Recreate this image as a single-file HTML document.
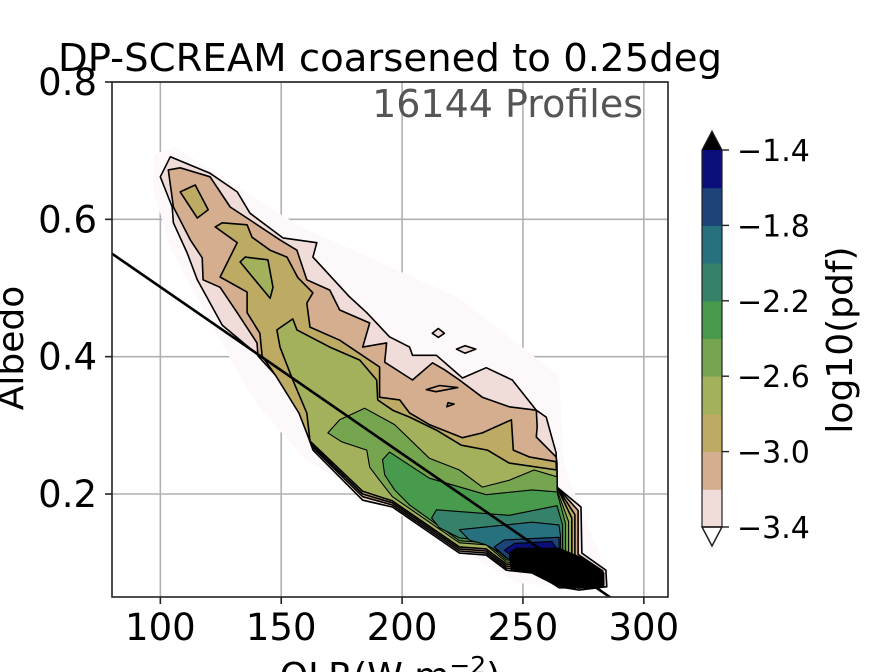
<!DOCTYPE html>
<html><head><meta charset="utf-8"><style>
html,body{margin:0;padding:0;background:#fff;}
svg{display:block;font-family:"DejaVu Sans","Liberation Sans",sans-serif;}
</style></head><body>
<svg id="chart" width="896" height="672" viewBox="0 0 896 672" xmlns="http://www.w3.org/2000/svg">
<defs><clipPath id="plotclip"><rect x="112" y="82" width="556" height="515"/></clipPath></defs>
<rect x="0" y="0" width="896" height="672" fill="#fff"/>
<g id="grid"></g>
<g id="contours" clip-path="url(#plotclip)"></g>
<g id="fitline" clip-path="url(#plotclip)"></g>
<rect x="112" y="82" width="556" height="515" fill="none" stroke="#222" stroke-width="1.6"/>
<g id="axes"></g>
<text x="390" y="71" font-size="38" text-anchor="middle" textLength="664" lengthAdjust="spacingAndGlyphs" fill="#000">DP-SCREAM coarsened to 0.25deg</text>
<text x="643" y="117" font-size="38" text-anchor="end" fill="#555">16144 Profiles</text>
<text x="0" y="0" font-size="36" text-anchor="middle" transform="translate(23,348) rotate(-90)">Albedo</text>
<text x="390" y="688" font-size="36" text-anchor="middle">OLR(W m<tspan font-size="25" dy="-14">−2</tspan><tspan dy="14">)</tspan></text>
<g id="colorbar"></g>
<text x="0" y="0" font-size="36" text-anchor="middle" transform="translate(852,340) rotate(-90)">log10(pdf)</text>
</svg>
<script>
const NS="http://www.w3.org/2000/svg";
// axis ranges
const xMin=80,xMax=310,yMin=0.05,yMax=0.8;
const xTicks=[100,150,200,250,300];
const yTicks=[0.2,0.4,0.6,0.8];
const yTickLabels=["0.2","0.4","0.6","0.8"];
// contour levels (log10 pdf) and colours
const levels=[-3.6,-3.4,-3.2,-3.0,-2.8,-2.6,-2.4,-2.2,-2.0,-1.8,-1.6,-1.4];
const levelColors=["#fdf8fa","#f0dcd8","#d4ae8e","#bdaa63","#a3b05c","#76a550","#489a4c","#35816a","#27707e","#1c4478","#0a0e78","#000000"];
const cbTicks=[-3.4,-3.0,-2.6,-2.2,-1.8,-1.4];
const cbTickLabels=["−3.4","−3.0","−2.6","−2.2","−1.8","−1.4"];
// contour regions: [levelIndex, OLR array, albedo array]
const c0olr=[97.5,106.2,157.7,223.7,264.9,267.0,283.0,284.0,248.4,199.0,160.0,140.0,122.0,104.0,97.0];
const c0alb=[0.695,0.705,0.590,0.485,0.372,0.240,0.100,0.062,0.070,0.170,0.250,0.330,0.440,0.560,0.645];
const c1olr=[100.0,104.1,120.6,131.8,137.1,150.7,164.7,163.1,178.3,185.4,194.8,203.1,204.3,214.2,225.0,234.8,245.6,255.5,259.6,263.7,264.1,274.0,274.4,284.3,284.7,273.2,264.9,253.8,243.1,234.8,223.7,196.0,183.7,163.1,159.0,149.5,141.2,125.6,115.3,111.1,105.4,104.9];
const c1alb=[0.662,0.691,0.667,0.640,0.609,0.573,0.566,0.545,0.487,0.464,0.429,0.414,0.402,0.402,0.369,0.384,0.366,0.322,0.312,0.260,0.210,0.181,0.114,0.089,0.065,0.060,0.065,0.085,0.089,0.111,0.114,0.181,0.191,0.264,0.312,0.366,0.400,0.446,0.512,0.551,0.595,0.618];
const c1bolr=[212.5,215.0,217.5,215.0];
const c1balb=[0.434,0.441,0.434,0.428];
const c1colr=[222.5,226.0,230.5,226.0];
const c1calb=[0.411,0.416,0.411,0.405];
const c2olr=[103.3,108.2,120.6,128.9,137.1,149.5,156.5,160.6,170.1,174.2,186.6,183.7,193.6,192.8,204.3,212.6,217.5,223.7,233.2,244.3,255.5,255.9,255.5,263.7,264.1,264.1,272.8,272.8,283.0,283.4,273.2,264.9,253.8,243.1,234.8,223.7,196.0,183.7,162.6,158.1,148.7,140.4,140.0,131.8,124.7,117.7,117.3,112.4,105.4];
const c2alb=[0.672,0.675,0.662,0.618,0.599,0.570,0.555,0.512,0.497,0.468,0.449,0.414,0.420,0.392,0.366,0.391,0.381,0.366,0.341,0.327,0.322,0.298,0.283,0.254,0.245,0.210,0.176,0.112,0.088,0.068,0.063,0.068,0.088,0.092,0.114,0.117,0.184,0.196,0.269,0.315,0.369,0.401,0.420,0.464,0.501,0.512,0.544,0.570,0.618];
const c2bolr=[219.0,221.5,218.5];
const c2balb=[0.333,0.331,0.327];
const c3olr=[122.7,125.6,135.9,137.9,145.4,152.4,156.9,163.1,160.6,161.9,174.2,190.7,190.7,199.0,203.1,211.3,225.0,233.2,245.2,246.0,252.6,263.7,264.1,271.5,271.5,281.3,281.7,273.2,264.9,253.8,243.1,234.8,223.7,196.0,183.7,162.3,157.3,147.8,142.1,141.2,135.9,135.9,124.7,131.8];
const c3alb=[0.589,0.595,0.592,0.574,0.555,0.545,0.515,0.493,0.478,0.443,0.424,0.385,0.341,0.337,0.318,0.301,0.282,0.289,0.308,0.264,0.254,0.247,0.210,0.170,0.110,0.086,0.070,0.066,0.070,0.091,0.095,0.117,0.120,0.187,0.200,0.273,0.318,0.372,0.401,0.434,0.464,0.494,0.516,0.566];
const c3bolr=[108.2,114.4,119.8,115.3];
const c3balb=[0.640,0.650,0.614,0.602];
const c3colr=[210.0,215.5,223.0,214.0];
const c3calb=[0.352,0.358,0.355,0.349];
const c4olr=[148.2,154.8,156.5,170.1,182.5,189.5,189.9,196.1,203.1,214.2,224.5,235.3,244.3,264.1,264.1,270.2,270.2,279.6,280.0,273.2,264.9,253.8,243.1,234.8,223.7,196.0,183.7,161.9,160.6,154.8,149.5];
const c4alb=[0.439,0.455,0.439,0.414,0.395,0.366,0.337,0.322,0.312,0.293,0.271,0.264,0.245,0.235,0.210,0.165,0.108,0.085,0.073,0.069,0.073,0.094,0.098,0.120,0.123,0.190,0.204,0.277,0.318,0.366,0.414];
const c4bolr=[133.0,135.1,144.5,146.6,145.4];
const c4balb=[0.538,0.545,0.541,0.501,0.485];
const c5olr=[169.3,174.2,184.5,196.9,211.3,223.7,233.2,244.3,254.6,264.1,264.1,268.9,268.9,278.0,278.4,273.2,264.9,253.8,243.1,234.8,223.7,196.0,190.7,186.6,185.4,175.0];
const c5alb=[0.289,0.308,0.325,0.301,0.252,0.235,0.210,0.220,0.235,0.225,0.206,0.160,0.106,0.084,0.076,0.072,0.076,0.097,0.101,0.126,0.129,0.196,0.220,0.239,0.264,0.276];
const c6olr=[191.9,194.8,211.3,234.8,253.8,264.1,267.6,267.6,276.5,273.2,264.9,253.8,243.1,234.8,223.7,203.1,196.9,192.8];
const c6alb=[0.250,0.261,0.223,0.199,0.206,0.203,0.157,0.104,0.082,0.075,0.079,0.100,0.104,0.129,0.132,0.184,0.206,0.228];
const c7olr=[212.2,214.2,244.3,264.1,266.4,266.4,275.0,273.2,264.9,253.8,243.1,234.8,223.7,215.4];
const c7alb=[0.165,0.177,0.169,0.183,0.155,0.102,0.081,0.078,0.082,0.102,0.107,0.132,0.136,0.151];
const c8olr=[227.8,223.7,253.8,264.9,265.5,265.5,273.8,264.9,253.8,243.1,234.8];
const c8alb=[0.133,0.148,0.159,0.155,0.140,0.100,0.079,0.085,0.105,0.110,0.126];
const c9olr=[238.1,242.3,258.8,264.9,265.0,268.0,273.0,264.9,253.8,244.3];
const c9alb=[0.123,0.133,0.136,0.137,0.121,0.097,0.078,0.087,0.097,0.104];
const c10olr=[242.3,246.4,262.0,265.0,272.0,264.9,248.4];
const c10alb=[0.118,0.128,0.131,0.115,0.082,0.089,0.101];
const c11olr=[244.3,247.2,264.9,274.4,283.5,283.5,277.3,264.9,257.9,253.8,245.2];
const c11alb=[0.114,0.121,0.121,0.107,0.085,0.065,0.063,0.063,0.079,0.085,0.089];
const regions=[[0,c0olr,c0alb],[1,c1olr,c1alb],[1,c1bolr,c1balb],[1,c1colr,c1calb],[2,c2olr,c2alb],[3,c2bolr,c2balb],[3,c3olr,c3alb],[3,c3bolr,c3balb],[2,c3colr,c3calb],[4,c4olr,c4alb],[4,c4bolr,c4balb],[5,c5olr,c5alb],[6,c6olr,c6alb],[7,c7olr,c7alb],[8,c8olr,c8alb],[9,c9olr,c9alb],[10,c10olr,c10alb],[11,c11olr,c11alb]];
// regression line
const fitOLR=[80,290];
const fitAlb=[0.55,0.040];

const PX0=112,PX1=668,PY0=82,PY1=597;
function sx(v){return PX0+(v-xMin)/(xMax-xMin)*(PX1-PX0);}
function sy(v){return PY1-(v-yMin)/(yMax-yMin)*(PY1-PY0);}
function mk(tag,attrs,parent){const e=document.createElementNS(NS,tag);for(const k in attrs)e.setAttribute(k,attrs[k]);parent.appendChild(e);return e;}

const grid=document.getElementById('grid');
xTicks.forEach(t=>{const l=mk('line',{x1:sx(t),x2:sx(t),y1:PY0,y2:PY1,stroke:'#b0b0b0','stroke-width':1.6},grid);

});
yTicks.forEach(t=>{const l=mk('line',{x1:PX0,x2:PX1,y1:sy(t),y2:sy(t),stroke:'#b0b0b0','stroke-width':1.6},grid);

});

const cg=document.getElementById('contours');
regions.forEach(r=>{
  const li=r[0],xs=r[1],ys=r[2];
  const pts=xs.map((v,i)=>sx(v).toFixed(1)+','+sy(ys[i]).toFixed(1)).join(' ');
  const p=mk('polygon',{points:pts,fill:levelColors[li],stroke:li===0?'none':'#000','stroke-width':li===0?0:(li>=5?1.1:1.6),'stroke-linejoin':'round'},cg);
  
  
});

const fg=document.getElementById('fitline');
const fl=mk('line',{x1:sx(fitOLR[0]),y1:sy(fitAlb[0]),x2:sx(fitOLR[1]),y2:sy(fitAlb[1]),stroke:'#000','stroke-width':2.6},fg);



const ax=document.getElementById('axes');
xTicks.forEach(t=>{
  const tk=mk('line',{x1:sx(t),x2:sx(t),y1:PY1,y2:PY1+7,stroke:'#222','stroke-width':1.6},ax);
  
  
  const tx=mk('text',{x:sx(t),y:640,'font-size':37,'text-anchor':'middle'},ax);
  tx.textContent=String(t);
  
  
});
yTicks.forEach((t,i)=>{
  const tk=mk('line',{x1:PX0-7,x2:PX0,y1:sy(t),y2:sy(t),stroke:'#222','stroke-width':1.6},ax);
  
  
  const tx=mk('text',{x:97,y:sy(t)+13,'font-size':37,'text-anchor':'end'},ax);
  tx.textContent=yTickLabels[i];
  
  
});

// colorbar
const cb=document.getElementById('colorbar');
const CBX=702,CBW=20,CBT=150,CBB=527;
const cbLo=levels[1],cbHi=levels[11];
function cy(v){return CBB-(v-cbLo)/(cbHi-cbLo)*(CBB-CBT);}
for(let i=1;i<11;i++){
  const r=mk('rect',{x:CBX,y:cy(levels[i+1]),width:CBW,height:cy(levels[i])-cy(levels[i+1])+0.5,fill:levelColors[i]},cb);
  
  
}
const tri1=mk('polygon',{points:`${CBX},${CBT} ${CBX+CBW},${CBT} ${CBX+CBW/2},${CBT-19}`,fill:'#000'},cb);


const tri2=mk('polygon',{points:`${CBX},${CBB} ${CBX+CBW},${CBB} ${CBX+CBW/2},${CBB+19}`,fill:'#fff',stroke:'#000','stroke-width':1.4},cb);


const outline=mk('polygon',{points:`${CBX},${CBT} ${CBX+CBW/2},${CBT-19} ${CBX+CBW},${CBT} ${CBX+CBW},${CBB} ${CBX+CBW/2},${CBB+19} ${CBX},${CBB}`,fill:'none',stroke:'#222','stroke-width':1.2},cb);


cbTicks.forEach((t,i)=>{
  const tk=mk('line',{x1:CBX+CBW,x2:CBX+CBW+7,y1:cy(t),y2:cy(t),stroke:'#222','stroke-width':1.4},cb);
  
  
  const tx=mk('text',{x:737,y:cy(t)+11,'font-size':30},cb);
  tx.textContent=cbTickLabels[i];
  
  
});
</script>
</body></html>
